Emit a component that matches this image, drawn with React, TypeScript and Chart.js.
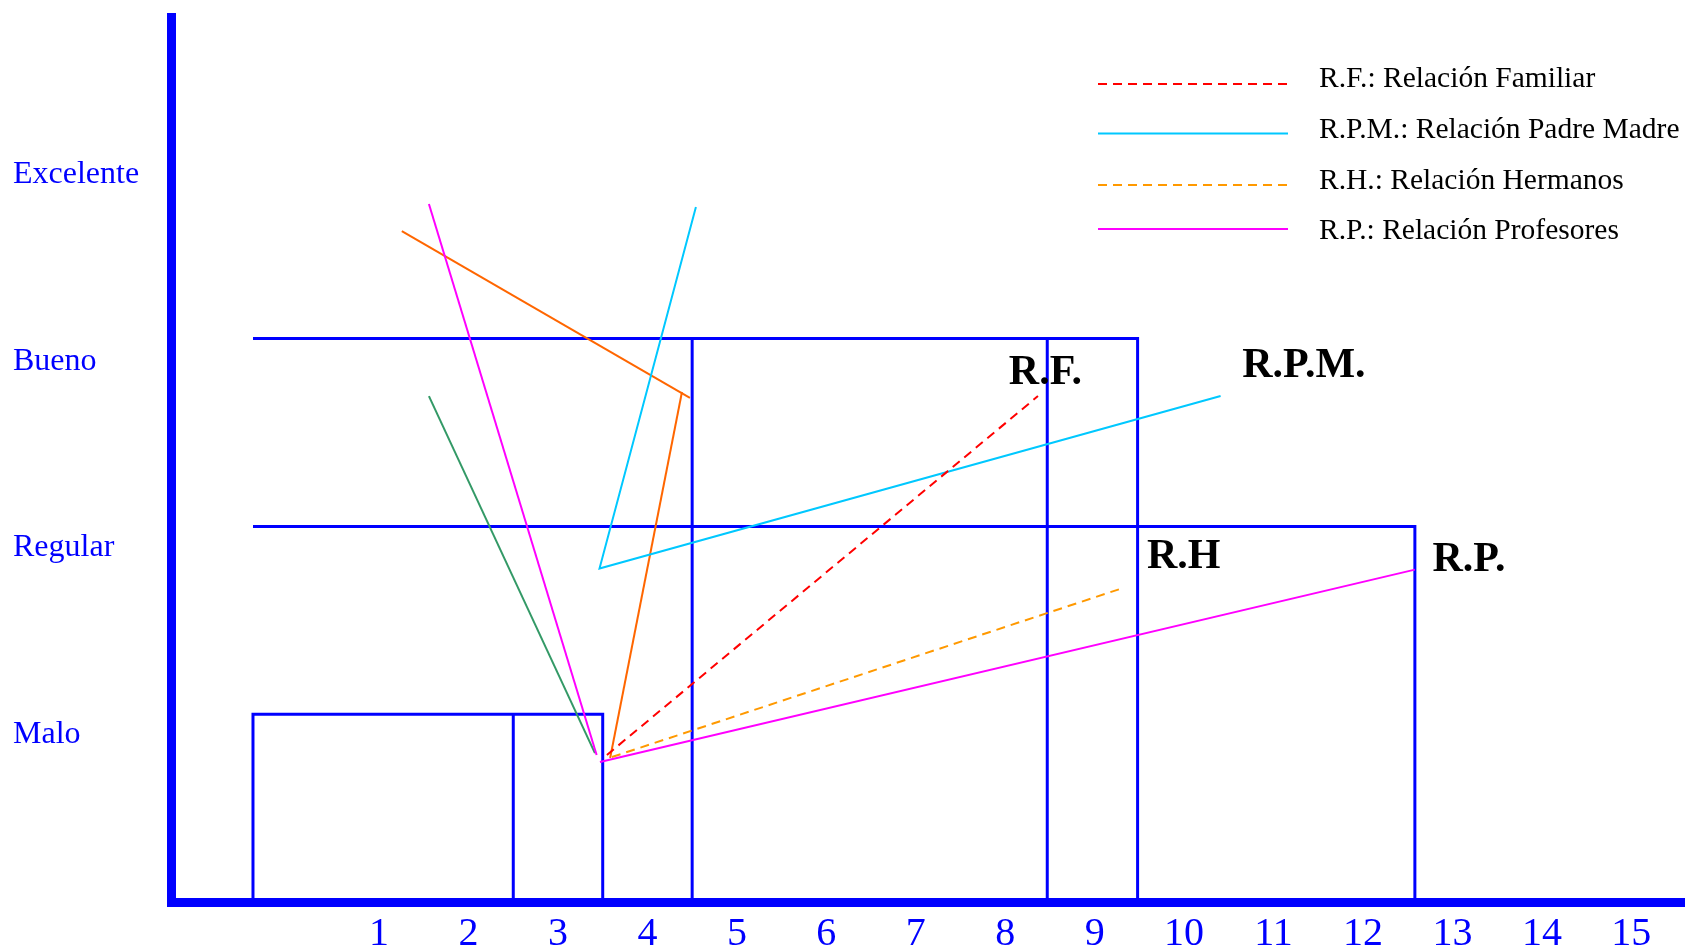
import { useEffect, useRef } from 'react';
import { Chart, registerables } from 'chart.js';

Chart.register(...registerables);

// ---- Data ----
const xTickValues = [1, 2, 3, 4, 5, 6, 7, 8, 9, 10, 11, 12, 13, 14, 15];
const levelLabels = ['Malo', 'Regular', 'Bueno', 'Excelente'];
const levelTickValues = [0.894, 1.887, 2.879, 3.874];

const legendLabels = [
  'R.F.: Relación Familiar',
  'R.P.M.: Relación Padre Madre',
  'R.H.: Relación Hermanos',
  'R.P.: Relación Profesores',
];

// series lines
const rfData = [{ x: 3.547, y: 0.783 }, { x: 8.366, y: 2.694 }];
const rpmData = [{ x: 4.542, y: 3.701 }, { x: 3.464, y: 1.776 }, { x: 10.408, y: 2.694 }];
const rhData = [{ x: 3.603, y: 0.772 }, { x: 9.316, y: 1.672 }];
const rpData = [{ x: 3.469, y: 0.745 }, { x: 12.58, y: 1.77 }];
const rpSteepData = [{ x: 1.557, y: 3.717 }, { x: 3.432, y: 0.783 }];
const greenData = [{ x: 1.557, y: 2.694 }, { x: 3.413, y: 0.793 }];
const orangeData = [{ x: 1.254, y: 3.573 }, { x: 4.475, y: 2.684 }];
const orangeDownData = [{ x: 4.386, y: 2.716 }, { x: 3.583, y: 0.767 }];

// frame (boxes)
const frameMalo = [{ x: -0.41, y: 0 }, { x: -0.41, y: 1 }, { x: 3.5, y: 1 }, { x: 3.5, y: 0 }];
const frameMaloDiv = [{ x: 2.5, y: 0 }, { x: 2.5, y: 1 }];
const frameRegular = [{ x: -0.41, y: 2 }, { x: 12.58, y: 2 }, { x: 12.58, y: 0 }];
const frameBueno = [{ x: -0.41, y: 3 }, { x: 9.48, y: 3 }, { x: 9.48, y: 0 }];
const frameBuenoDiv1 = [{ x: 4.5, y: 0 }, { x: 4.5, y: 3 }];
const frameBuenoDiv2 = [{ x: 8.47, y: 0 }, { x: 8.47, y: 3 }];

// labels next to the series
const seriesTags = [
  { text: 'R.F.', x: 8.04, y: 2.758 },
  { text: 'R.P.M.', x: 10.65, y: 2.796 },
  { text: 'R.H', x: 9.584, y: 1.778 },
  { text: 'R.P.', x: 12.776, y: 1.763 },
];

const X_MIN = -1.321;
const X_MAX = 15.6;
const Y_MIN = 0;
const Y_MAX = 4.71;

const BLUE = '#0000FF';
const SERIF = '"Liberation Serif", "Times New Roman", serif';

const legendRowsY = [77.5, 128, 179.5, 229];
const legendLineY = [84, 133.5, 185, 229];

const legendPlugin = {
  id: 'manualLegend',
  afterDatasetsDraw(chart: any) {
    const ctx = chart.ctx;
    ctx.save();
    legendLabels.forEach((lab, i) => {
      const ds = chart.data.datasets.find((d: any) => d.label === lab);
      if (!ds) return;
      const y = legendRowsY[i];
      const ly = legendLineY[i];
      ctx.strokeStyle = ds.borderColor;
      ctx.lineWidth = 2;
      ctx.setLineDash(ds.borderDash || []);
      ctx.beginPath();
      ctx.moveTo(1098, ly);
      ctx.lineTo(1288, ly);
      ctx.stroke();
      ctx.setLineDash([]);
      ctx.fillStyle = '#000';
      ctx.font = '29.5px ' + SERIF;
      ctx.textAlign = 'left';
      ctx.textBaseline = 'alphabetic';
      ctx.fillText(lab, 1319, y + 9.8);
    });
    ctx.restore();
  },
};

const tagPlugin = {
  id: 'seriesTags',
  afterDatasetsDraw(chart: any) {
    const ctx = chart.ctx;
    const xs = chart.scales.x;
    const ys = chart.scales.y;
    ctx.save();
    ctx.fillStyle = '#000';
    ctx.font = 'bold 42px ' + SERIF;
    ctx.textAlign = 'left';
    ctx.textBaseline = 'alphabetic';
    seriesTags.forEach((t) => {
      ctx.fillText(t.text, xs.getPixelForValue(t.x), ys.getPixelForValue(t.y));
    });
    ctx.restore();
  },
};

function line(label: string, data: any[], color: string, width: number, dash?: number[]) {
  return {
    label,
    data,
    borderColor: color,
    backgroundColor: color,
    borderWidth: width,
    borderDash: dash || [],
    showLine: true,
    pointRadius: 0,
    pointHoverRadius: 0,
    fill: false,
    tension: 0,
  };
}

function zeroPadding(scale: any) {
  scale.paddingTop = 0;
  scale.paddingBottom = 0;
  scale.paddingLeft = 0;
  scale.paddingRight = 0;
}

export default function App() {
  const ref = useRef<HTMLCanvasElement | null>(null);

  useEffect(() => {
    if (!ref.current) return;
    const chart = new Chart(ref.current, {
      type: 'scatter',
      data: {
        datasets: [
          line(legendLabels[0], rfData, '#FF0000', 2, [9, 6]),
          line(legendLabels[1], rpmData, '#00C8FF', 2),
          line(legendLabels[2], rhData, '#FF9900', 2, [9, 6]),
          line(legendLabels[3], rpData, '#FF00FF', 2),
          line('rpSteep', rpSteepData, '#FF00FF', 2),
          line('green', greenData, '#339966', 2),
          line('orange', orangeData, '#FF6600', 2),
          line('orangeDown', orangeDownData, '#FF6600', 2),
          line('frameMalo', frameMalo, BLUE, 3),
          line('frameMaloDiv', frameMaloDiv, BLUE, 3),
          line('frameRegular', frameRegular, BLUE, 3),
          line('frameBueno', frameBueno, BLUE, 3),
          line('frameBuenoDiv1', frameBuenoDiv1, BLUE, 3),
          line('frameBuenoDiv2', frameBuenoDiv2, BLUE, 3),
        ] as any,
      },
      options: {
        animation: false,
        responsive: false,
        devicePixelRatio: 1,
        layout: { padding: { left: 13, top: 17.5, right: 0, bottom: 0 } },
        plugins: {
          legend: { display: false },
          tooltip: { enabled: false },
          title: { display: false },
        },
        events: [],
        scales: {
          x: {
            type: 'linear',
            min: X_MIN,
            max: X_MAX,
            grid: { display: false, drawTicks: false },
            border: { display: true, color: BLUE, width: 9 },
            afterBuildTicks: (scale: any) => {
              scale.ticks = xTickValues.map((v) => ({ value: v }));
            },
            afterFit: (scale: any) => {
              scale.height = 46;
              zeroPadding(scale);
            },
            ticks: {
              autoSkip: false,
              maxRotation: 0,
              minRotation: 0,
              padding: 8,
              color: BLUE,
              font: { family: SERIF, size: 40 },
              callback: (v: any) => String(v),
            },
          },
          y: {
            type: 'linear',
            min: Y_MIN,
            max: Y_MAX,
            grid: { display: false, drawTicks: false },
            border: { display: true, color: BLUE, width: 9 },
            afterBuildTicks: (scale: any) => {
              scale.ticks = levelTickValues.map((v) => ({ value: v }));
            },
            afterFit: (scale: any) => {
              scale.width = 158.5;
              zeroPadding(scale);
            },
            ticks: {
              autoSkip: false,
              crossAlign: 'far',
              color: BLUE,
              font: { family: SERIF, size: 32 },
              callback: (_v: any, i: number) => levelLabels[i],
            },
          },
        },
      } as any,
      plugins: [legendPlugin, tagPlugin],
    });
    return () => chart.destroy();
  }, []);

  return (
    <div style={{ position: 'absolute', left: 0, top: 0, width: 1685, height: 948, background: '#fff' }}>
      <canvas ref={ref} width={1685} height={948} style={{ width: 1685, height: 948, display: 'block' }} />
    </div>
  );
}
